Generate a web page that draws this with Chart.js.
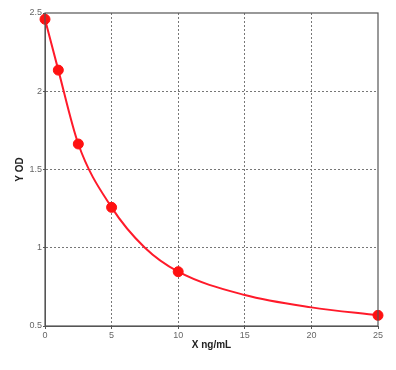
<!DOCTYPE html>
<html>
<head>
<meta charset="utf-8">
<script src="https://cdn.jsdelivr.net/npm/chart.js@4/dist/chart.umd.min.js"></script>
<style>
html,body{margin:0;padding:0;background:#fff;}
#wrap{width:396px;height:370px;position:relative;}
</style>
</head>
<body>
<div id="wrap"><canvas id="c" width="396" height="370"></canvas></div>
<script>
// Standard points (concentration ng/mL, OD)
const pointX = [0, 1, 2.5, 5, 10, 25];
const pointY = [2.46, 2.135, 1.663, 1.258, 0.847, 0.568];
// Fitted curve
const curveX = [0, 1, 2.5, 5, 7.5, 10, 15, 20, 25];
const curveY = [2.46, 2.135, 1.663, 1.258, 1.0, 0.847, 0.698, 0.619, 0.568];
const xTicks = [0, 5, 10, 15, 20, 25];
const yTicks = [0.5, 1, 1.5, 2, 2.5];
const xTitle = 'X ng/mL';
const yTitle = 'Y OD';

const frame = {
  id: 'frame',
  afterDatasetsDraw(chart) {
    const a = chart.chartArea, ctx = chart.ctx;
    ctx.save();
    ctx.strokeStyle = '#555';
    ctx.lineWidth = 1.2;
    ctx.strokeRect(a.left, a.top, a.right - a.left, a.bottom - a.top);
    ctx.restore();
  }
};

new Chart(document.getElementById('c'), {
  type: 'scatter',
  data: {
    datasets: [
      {
        type: 'line',
        data: curveX.map((x, i) => ({x, y: curveY[i]})),
        borderColor: '#ff1a2a',
        borderWidth: 2,
        pointRadius: 0,
        cubicInterpolationMode: 'monotone',
        fill: false,
        order: 2
      },
      {
        data: pointX.map((x, i) => ({x, y: pointY[i]})),
        backgroundColor: '#ff1111',
        borderColor: '#ff1111',
        pointRadius: 5,
        order: 1
      }
    ]
  },
  options: {
    responsive: false,
    animation: false,
    clip: false,
    layout: {padding: {top: 13, right: 18, left: 10, bottom: 15}},
    plugins: {legend: {display: false}, tooltip: {enabled: false}},
    scales: {
      x: {
        type: 'linear', min: 0, max: 25,
        afterBuildTicks(s) { s.ticks = xTicks.map(v => ({value: v})); },
        afterFit(s) { s.height = 29; },
        grid: {
          color: (c) => (c.tick && (c.tick.value === 0 || c.tick.value === 25)) ? 'rgba(0,0,0,0)' : '#777',
          tickColor: '#555', tickLength: 3, lineWidth: 1
        },
        border: {display: true, color: '#555', dash: [2, 2]},
        ticks: {color: '#666', font: {family: 'Liberation Sans', size: 9}, padding: 1, maxRotation: 0,
          callback: (v) => String(v)},
        title: {display: true, text: xTitle, color: '#222', font: {family: 'Liberation Sans', size: 10, weight: 'bold'}, padding: {top: 2}}
      },
      y: {
        type: 'linear', min: 0.5, max: 2.5,
        afterBuildTicks(s) { s.ticks = yTicks.map(v => ({value: v})); },
        afterFit(s) { s.width = 35; },
        grid: {
          color: (c) => (c.tick && (c.tick.value === 0.5 || c.tick.value === 2.5)) ? 'rgba(0,0,0,0)' : '#777',
          tickColor: '#555', tickLength: 2, lineWidth: 1
        },
        border: {display: true, color: '#555', dash: [2, 2]},
        ticks: {color: '#666', font: {family: 'Liberation Sans', size: 9}, padding: 1,
          callback: (v) => String(v)},
        title: {display: true, text: yTitle, color: '#222', font: {family: 'Liberation Sans', size: 10, weight: 'bold'}, padding: {bottom: 2}}
      }
    }
  },
  plugins: [frame]
});
</script>
</body>
</html>
